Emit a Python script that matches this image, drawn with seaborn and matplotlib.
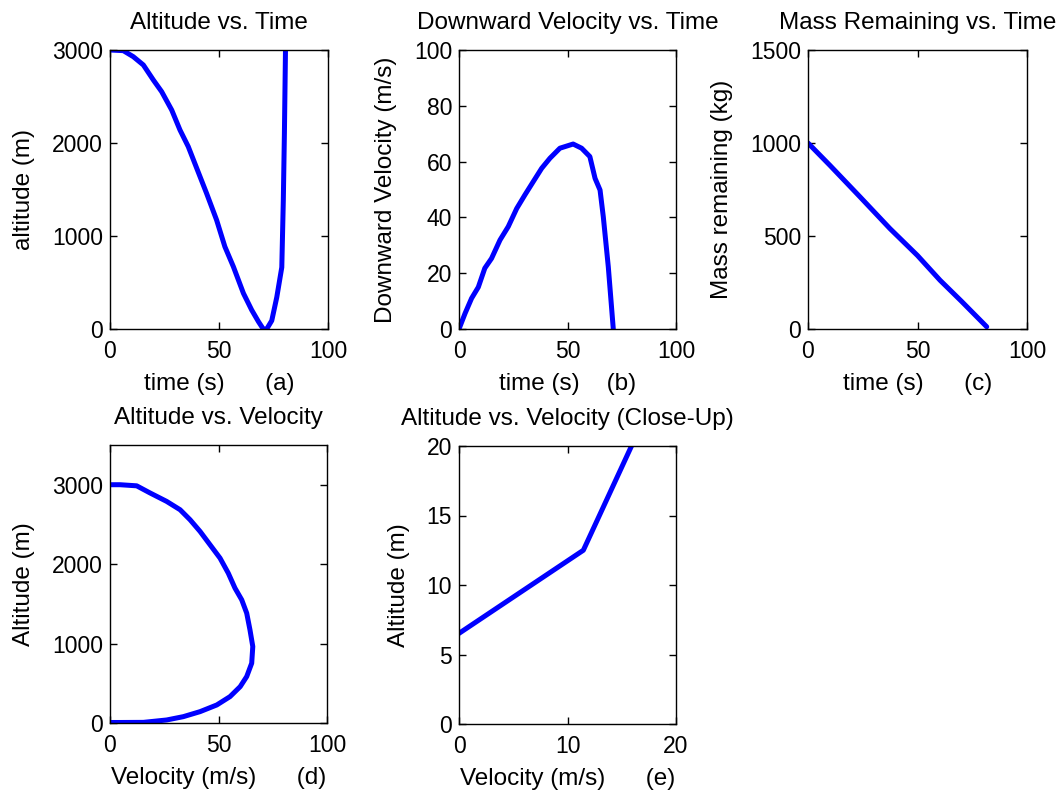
import numpy as np
import pandas as pd
import matplotlib
matplotlib.use("Agg")
import matplotlib.pyplot as plt
import seaborn as sns

# ---- data ----
alt_t = [0, 6.1, 10.7, 15.3, 19.9, 23.7, 28.3, 32.1, 35.9, 41.3, 44.3, 48.9, 52.7, 56.6,
         61.2, 65.0, 68.1, 70.3, 71.9, 74.2, 76.5, 78.8, 79.5, 80.0, 80.5, 81.2]
alt_h = [3000, 2993, 2928, 2839, 2677, 2552, 2355, 2140, 1961, 1638, 1459, 1172, 885, 670,
         384, 204, 79, 0, 0, 90, 341, 663, 1380, 2100, 3000, 4200]

vel_t = [0, 2.8, 5.8, 8.9, 11.9, 15.0, 18.9, 22.7, 26.6, 30.4, 34.2, 38.1, 41.9, 46.5,
         52.6, 56.5, 60.3, 62.7, 65.0, 66.5, 68.8, 71.1]
vel_v = [0, 5.6, 11.0, 15.0, 21.8, 25.3, 31.9, 36.7, 43.2, 48.1, 52.8, 57.6, 61.2, 64.8,
         66.3, 64.8, 61.8, 54.0, 49.8, 40.2, 22.3, 0]

mass_t = [0, 10, 23.7, 37.4, 50, 60.3, 70, 81.6]
mass_m = [1000, 880, 711, 540, 395, 262, 150, 12]

av_v = [0, 4.6, 12.3, 18.4, 26.1, 32.3, 36.9, 41.5, 46.1, 50.7, 54.5, 57.6, 60.7, 63.0,
        64.5, 65.8, 65.3, 63.0, 60.0, 55.3, 49.2, 41.5, 33.8, 26.1, 15.4, 4.6, 0]
av_h = [3000, 3000, 2986, 2897, 2790, 2685, 2559, 2412, 2244, 2076, 1887, 1698, 1551, 1383,
        1173, 963, 753, 585, 458, 332, 227, 143, 80, 38, 8, 6.5, 6.5]

cu_v = [0, 11.46, 15.9, 19]
cu_h = [6.52, 12.5, 20, 25.2]

sns.set_style("white")
plt.rcParams['font.family'] = ['Liberation Sans', 'DejaVu Sans']
for k in ['text.color', 'axes.labelcolor', 'xtick.color', 'ytick.color']:
    plt.rcParams[k] = 'black'

TICK_FS = 16.5
LAB_FS = 17.5
TIT_FS = 17.5

W, H = 1060, 793
fig = plt.figure(figsize=(W / 100, H / 100), dpi=100)

def mkax(left, top, right, bottom):
    return fig.add_axes([left / W, 1 - bottom / H, (right - left) / W, (bottom - top) / H])

def style(ax, xlim, ylim, xticks, yticks, title, xlabel, ylabel):
    ax.set_xlim(*xlim)
    ax.set_ylim(*ylim)
    ax.set_xticks(xticks)
    ax.set_yticks(yticks)
    ax.set_title(title, fontsize=TIT_FS, pad=15)
    ax.set_xlabel(xlabel, fontsize=LAB_FS, labelpad=7)
    ax.set_ylabel(ylabel, fontsize=LAB_FS, labelpad=12)
    ax.tick_params(direction='in', length=5, width=1, top=True, right=True,
                   bottom=True, left=True, labelsize=TICK_FS, colors='black')
    ax.tick_params(axis='x', pad=8)
    ax.tick_params(axis='y', pad=5)
    for s in ax.spines.values():
        s.set_visible(True)
        s.set_color('black')
        s.set_linewidth(1.0)
    ax.set_facecolor('white')

lw = 3.6
blue = (0, 0, 1)

ax1 = mkax(110, 50, 328, 329)
sns.lineplot(x=alt_t, y=alt_h, ax=ax1, color=blue, lw=lw, sort=False, estimator=None)
style(ax1, (0, 100), (0, 3000), [0, 50, 100], [0, 1000, 2000, 3000],
      'Altitude vs. Time', 'time (s)      (a)', 'altitude (m)')

ax2 = mkax(459, 50, 676, 329)
sns.lineplot(x=vel_t, y=vel_v, ax=ax2, color=blue, lw=lw, sort=False, estimator=None)
style(ax2, (0, 100), (0, 100), [0, 50, 100], [0, 20, 40, 60, 80, 100],
      'Downward Velocity vs. Time', 'time (s)    (b)', 'Downward Velocity (m/s)')

ax3 = mkax(808, 50, 1027, 329)
sns.lineplot(x=mass_t, y=mass_m, ax=ax3, color=blue, lw=lw, sort=False, estimator=None)
style(ax3, (0, 100), (0, 1500), [0, 50, 100], [0, 500, 1000, 1500],
      'Mass Remaining vs. Time', 'time (s)      (c)', 'Mass remaining (kg)')

ax4 = mkax(110, 445, 327, 723)
sns.lineplot(x=av_v, y=av_h, ax=ax4, color=blue, lw=lw, sort=False, estimator=None)
style(ax4, (0, 100), (0, 3500), [0, 50, 100], [0, 1000, 2000, 3000],
      'Altitude vs. Velocity', 'Velocity (m/s)      (d)', 'Altitude (m)')

ax5 = mkax(459, 446, 676, 724)
sns.lineplot(x=cu_v, y=cu_h, ax=ax5, color=blue, lw=lw, sort=False, estimator=None)
style(ax5, (0, 20), (0, 20), [0, 10, 20], [0, 5, 10, 15, 20],
      'Altitude vs. Velocity (Close-Up)', 'Velocity (m/s)      (e)', 'Altitude (m)')

fig.savefig('out.png', dpi=100, facecolor='white')
